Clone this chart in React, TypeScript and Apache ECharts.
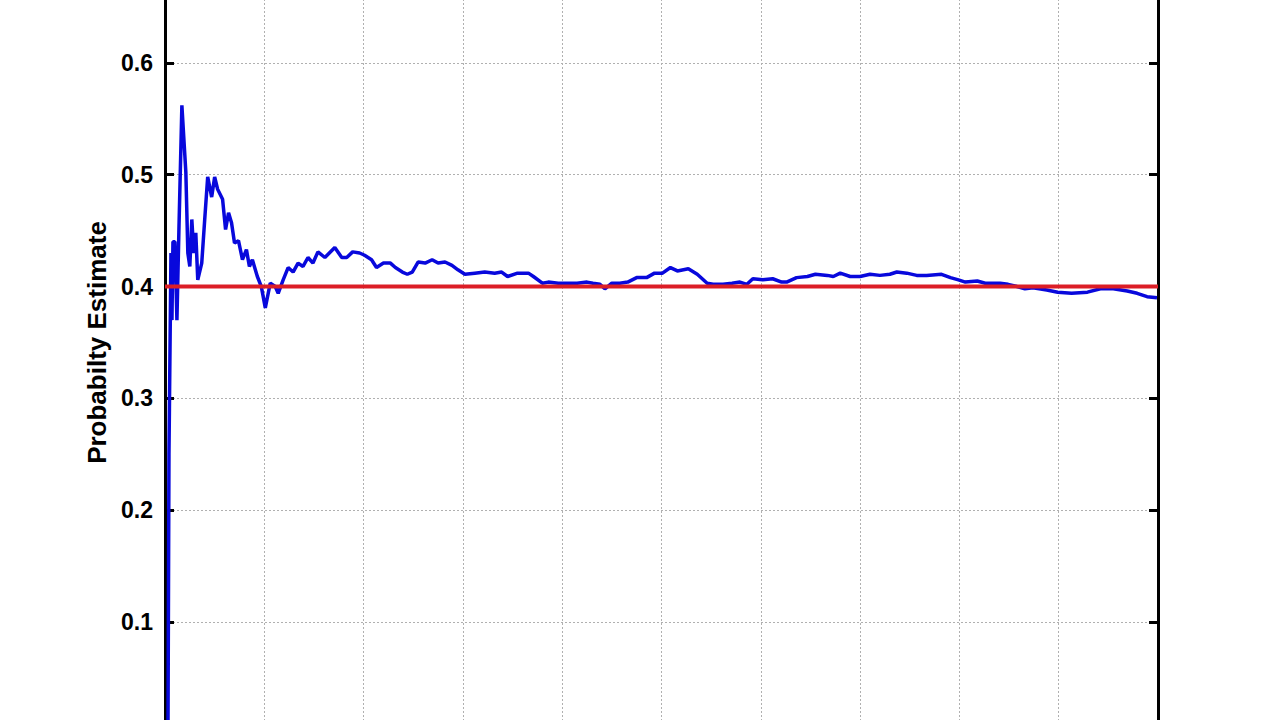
import { useEffect, useRef } from "react";
import * as echarts from "echarts";

// trial index of each traced point
const trials = [
  1, 3, 4, 6, 7, 8, 10, 12, 14, 17, 21, 23, 25, 27, 29, 31, 33, 37, 40, 43, 47, 50, 53, 58, 61, 64, 67, 70,
  74, 78, 82, 85, 88, 93, 97, 101, 106, 111, 114, 119, 124, 129, 134, 139, 144, 149, 154, 161, 171, 178,
  183, 189, 196, 201, 208, 213, 220, 227, 232, 239, 244, 249, 255, 262, 269, 275, 282, 289, 295, 302, 312,
  322, 332, 339, 345, 355, 366, 371, 380, 386, 396, 406, 415, 425, 431, 438, 443, 450, 458, 466, 475, 485,
  493, 501, 509, 516, 527, 536, 546, 552, 562, 571, 579, 586, 592, 602, 612, 621, 626, 636, 647, 655, 667,
  673, 680, 690, 700, 710, 720, 730, 737, 747, 757, 767, 782, 791, 799, 806, 818, 826, 831, 841, 849, 858,
  866, 874, 888, 899, 913, 929, 942, 955, 969, 979, 989, 999
];

// running probability estimate at those trials
const estimate = [
  0.0, 0.0, 0.25, 0.43, 0.37, 0.44, 0.44, 0.37, 0.45, 0.562, 0.502, 0.43, 0.418, 0.46, 0.43, 0.448, 0.406,
  0.421, 0.46, 0.498, 0.48, 0.498, 0.487, 0.478, 0.451, 0.466, 0.457, 0.439, 0.441, 0.424, 0.433, 0.418,
  0.424, 0.409, 0.4, 0.381, 0.403, 0.4, 0.394, 0.406, 0.417, 0.413, 0.421, 0.418, 0.426, 0.421, 0.431,
  0.426, 0.435, 0.426, 0.426, 0.431, 0.43, 0.428, 0.424, 0.417, 0.421, 0.421, 0.417, 0.413, 0.411, 0.413,
  0.422, 0.421, 0.424, 0.421, 0.422, 0.419, 0.415, 0.411, 0.412, 0.413, 0.412, 0.413, 0.409, 0.412, 0.412,
  0.409, 0.403, 0.404, 0.403, 0.403, 0.403, 0.404, 0.403, 0.402, 0.398, 0.403, 0.403, 0.404, 0.408, 0.408,
  0.412, 0.412, 0.417, 0.414, 0.416, 0.411, 0.403, 0.402, 0.402, 0.403, 0.404, 0.402, 0.407, 0.406, 0.407,
  0.404, 0.404, 0.408, 0.409, 0.411, 0.41, 0.409, 0.412, 0.409, 0.409, 0.411, 0.41, 0.411, 0.413, 0.412,
  0.41, 0.41, 0.411, 0.408, 0.406, 0.404, 0.405, 0.403, 0.403, 0.403, 0.402, 0.4, 0.398, 0.399, 0.397,
  0.395, 0.394, 0.395, 0.398, 0.398, 0.396, 0.394, 0.391, 0.39
];

const trueProbability = 0.4;
const yTicks = [0.1, 0.2, 0.3, 0.4, 0.5, 0.6];

export default function App() {
  const chartRef = useRef<HTMLDivElement>(null);

  useEffect(() => {
    if (!chartRef.current) return;
    const chart = echarts.init(chartRef.current, null, { renderer: "svg" });

    const labelStyle = {
      fontFamily: "Arial, 'Liberation Sans', sans-serif",
      fontWeight: "bold" as const,
      fontSize: 23,
      color: "#000"
    };
    const gridLine = { show: true, lineStyle: { color: "#b0b0b0", type: [2, 2], width: 1 } };

    chart.setOption({
      animation: false,
      grid: { left: 165, right: 122, top: 51, bottom: 66, containLabel: false },
      xAxis: {
        type: "value",
        min: 0,
        max: 1000,
        interval: 100,
        axisLine: { show: true, onZero: false, lineStyle: { color: "#000", width: 3 } },
        axisTick: { show: false },
        axisLabel: { show: false },
        splitLine: gridLine
      },
      yAxis: [
        {
          type: "value",
          min: 0,
          max: 0.7,
          interval: 0.1,
          name: "Probabilty Estimate",
          nameLocation: "middle",
          nameGap: 55,
          nameTextStyle: { ...labelStyle, fontSize: 26 },
          axisLine: { show: true, onZero: false, lineStyle: { color: "#000", width: 3 } },
          axisTick: { show: true, inside: true, length: 9, lineStyle: { color: "#000", width: 3 } },
          axisLabel: {
            ...labelStyle,
            margin: 12,
            formatter: (v: number) => (yTicks.some(t => Math.abs(t - v) < 1e-6) ? v.toFixed(1) : "")
          },
          splitLine: gridLine
        },
        {
          type: "value",
          position: "right",
          min: 0,
          max: 0.7,
          interval: 0.1,
          axisLine: { show: true, onZero: false, lineStyle: { color: "#000", width: 3 } },
          axisTick: { show: true, inside: true, length: 9, lineStyle: { color: "#000", width: 3 } },
          axisLabel: { show: false },
          splitLine: { show: false }
        }
      ],
      series: [
        {
          type: "line",
          data: trials.map((t, i) => [t, estimate[i]]),
          showSymbol: false,
          lineStyle: { color: "#0808dc", width: 3.5 },
          z: 3
        },
        {
          type: "line",
          data: [
            [0, trueProbability],
            [1000, trueProbability]
          ],
          showSymbol: false,
          lineStyle: { color: "#dc1e26", width: 4 },
          z: 4
        }
      ]
    });

    return () => {
      chart.dispose();
    };
  }, []);

  return (
    <div
      ref={chartRef}
      style={{ position: "fixed", left: 0, top: -100, width: 1280, height: 900, background: "#fff" }}
    />
  );
}
